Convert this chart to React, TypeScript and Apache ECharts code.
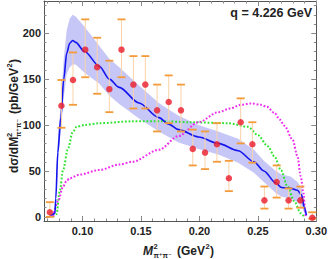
import React, { useEffect, useRef } from 'react';
import * as echarts from 'echarts';

const xMin = 0.067;
const xMax = 0.3;
const yMin = -4.5;
const yMax = 235;
const xMajor = [0.1, 0.15, 0.2, 0.25, 0.3];
const xMinor = [0.07, 0.08, 0.09, 0.11, 0.12, 0.13, 0.14, 0.16, 0.17, 0.18, 0.19, 0.21, 0.22, 0.23, 0.24, 0.26, 0.27, 0.28, 0.29];
const yMajor = [0, 50, 100, 150, 200];
const yMinor = [10, 20, 30, 40, 60, 70, 80, 90, 110, 120, 130, 140, 160, 170, 180, 190, 210, 220, 230];

// measured data points with error bars
const dataX = [0.072, 0.0819, 0.0918, 0.1023, 0.1125, 0.1229, 0.1333, 0.1435, 0.1537, 0.1638, 0.1737, 0.1842, 0.1943, 0.2048, 0.215, 0.2252, 0.2353, 0.2453, 0.2556, 0.2661, 0.2763, 0.2864, 0.2966];
const dataY = [5, 121, 149, 182, 163, 139, 182, 144, 144, 116, 125, 116, 74, 70, 79, 42, 103, 79, 18, 38, 18, 18, -1];
const errLow = [0, 97, 122, 152, 134, 114, 152, 118, 118, 93, 102, 93, 56, 52, 60, 28, 80, 59, 9, 21, 9, 10, -2];
const errHigh = [16, 149, 179, 215, 195, 170, 215, 175, 175, 144, 154, 144, 95, 93, 102, 61, 129, 103, 33, 56, 31, 33, 5];

// fit curve (blue) with uncertainty band
const modelX = [0.0716, 0.074, 0.0763, 0.0771, 0.0788, 0.0814, 0.0839, 0.0864, 0.089, 0.0915, 0.0941, 0.1017, 0.1144, 0.1229, 0.1314, 0.1483, 0.1653, 0.1737, 0.1822, 0.1992, 0.2161, 0.2331, 0.2466, 0.2551, 0.2653, 0.2703, 0.278, 0.2839, 0.2873, 0.2898, 0.2915];
const blueY = [0, 2.5, 4, 20, 70, 108, 150, 178, 189, 192, 190, 180, 164, 150, 141, 124, 108, 101, 95, 87, 80, 72, 60, 50, 37, 32, 31, 29, 24, 10, 2];
const bandUpper = [0, 3, 6, 25, 82, 124, 172, 203, 216, 220, 218, 207, 186, 172, 163, 143, 124, 117, 110, 100, 93, 85, 73, 61, 50, 46, 44, 38, 32, 16, 5];
const bandLower = [0, 2, 2, 15, 58, 94, 130, 155, 163, 166, 166, 157, 145, 132, 123, 107, 93, 87, 81, 74, 68, 59, 48, 38, 26, 22, 20, 16, 12, 4, 0];

// green dotted component
const greenX = [0.0746, 0.0777, 0.0805, 0.0833, 0.0875, 0.0915, 0.0949, 0.1017, 0.1144, 0.1424, 0.1695, 0.1932, 0.2246, 0.2415, 0.25, 0.2585, 0.2642, 0.2697, 0.2754, 0.2811, 0.2867, 0.2896];
const greenY = [0, 3, 28, 51, 74, 92, 98, 100, 102, 104, 104, 103, 102, 98, 89, 77, 66, 51, 33, 17, 4, 0];

// magenta dotted component
const magX = [0.0748, 0.0791, 0.0833, 0.0862, 0.089, 0.0975, 0.1144, 0.1314, 0.1426, 0.1653, 0.1822, 0.1992, 0.2161, 0.2263, 0.2356, 0.2441, 0.2525, 0.2576, 0.2644, 0.2686, 0.2729, 0.2797, 0.2839, 0.2867, 0.289, 0.2904, 0.2909];
const magY = [0.5, 17, 33, 39, 42, 46, 51, 57, 60, 73, 88, 103, 114, 118, 122, 123.5, 122, 120, 113, 106, 99, 84, 66, 44, 26, 8, 0.5];

const FONT = '"Liberation Sans", Arial, "DejaVu Sans", sans-serif';
const FRAME = '#555';
const TICK = '#888';

function axisCommon(min: number, max: number) {
  return { type: 'value', min, max, splitLine: { show: false } };
}

export default function App() {
  const ref = useRef<HTMLDivElement>(null);
  useEffect(() => {
    if (!ref.current) return;
    const chart = echarts.init(ref.current, undefined, { renderer: 'svg' });
    const labelStyle = { fontSize: 11, fontWeight: 'bold', color: '#222', fontFamily: FONT };
    const xAxes = [
      {
        ...axisCommon(xMin, xMax), position: 'bottom',
        axisLine: { show: true, onZero: false, lineStyle: { color: FRAME, width: 1 } },
        axisTick: { show: true, inside: true, length: 5, customValues: xMajor, lineStyle: { color: TICK } },
        axisLabel: { show: true, customValues: xMajor, margin: 4, formatter: (v: number) => v.toFixed(2), ...labelStyle },
      },
      {
        ...axisCommon(xMin, xMax), position: 'bottom',
        axisLine: { show: false, onZero: false },
        axisTick: { show: true, inside: true, length: 2.5, customValues: xMinor, lineStyle: { color: TICK } },
        axisLabel: { show: false },
      },
      {
        ...axisCommon(xMin, xMax), position: 'top',
        axisLine: { show: true, onZero: false, lineStyle: { color: FRAME, width: 1 } },
        axisTick: { show: true, inside: true, length: 5, customValues: xMajor, lineStyle: { color: TICK } },
        axisLabel: { show: false },
      },
      {
        ...axisCommon(xMin, xMax), position: 'top',
        axisLine: { show: false, onZero: false },
        axisTick: { show: true, inside: true, length: 2.5, customValues: xMinor, lineStyle: { color: TICK } },
        axisLabel: { show: false },
      },
    ];
    const yAxes = [
      {
        ...axisCommon(yMin, yMax), position: 'left',
        axisLine: { show: true, onZero: false, lineStyle: { color: FRAME, width: 1 } },
        axisTick: { show: true, inside: true, length: 5, customValues: yMajor, lineStyle: { color: TICK } },
        axisLabel: { show: true, customValues: yMajor, margin: 3, ...labelStyle },
      },
      {
        ...axisCommon(yMin, yMax), position: 'left',
        axisLine: { show: false, onZero: false },
        axisTick: { show: true, inside: true, length: 2.5, customValues: yMinor, lineStyle: { color: TICK } },
        axisLabel: { show: false },
      },
      {
        ...axisCommon(yMin, yMax), position: 'right',
        axisLine: { show: true, onZero: false, lineStyle: { color: FRAME, width: 1 } },
        axisTick: { show: true, inside: true, length: 5, customValues: yMajor, lineStyle: { color: TICK } },
        axisLabel: { show: false },
      },
      {
        ...axisCommon(yMin, yMax), position: 'right',
        axisLine: { show: false, onZero: false },
        axisTick: { show: true, inside: true, length: 2.5, customValues: yMinor, lineStyle: { color: TICK } },
        axisLabel: { show: false },
      },
    ];

    const bandData = modelX.map((x, i) => [x, bandLower[i], bandUpper[i]]);
    const errData = dataX.map((x, i) => [x, errLow[i], errHigh[i]]);

    const t = (text: string, x: number, y: number, size: number, extra: any = {}) => ({
      type: 'text', x, y,
      style: { text, fontSize: size, fontWeight: 'bold', fontFamily: FONT, fill: '#222', textAlign: 'left', textVerticalAlign: 'middle', ...extra },
    });

    chart.setOption({
      animation: false,
      grid: { left: 44, right: 11, top: 1, bottom: 38, containLabel: false },
      xAxis: xAxes,
      yAxis: yAxes,
      series: [
        {
          type: 'custom', z: 1, xAxisIndex: 0, yAxisIndex: 0, data: bandData,
          renderItem: (params: any, api: any) => {
            if (params.dataIndex !== 0) return null;
            const pts: number[][] = [];
            for (let i = 0; i < bandData.length; i++) pts.push(api.coord([bandData[i][0], bandData[i][2]]));
            for (let i = bandData.length - 1; i >= 0; i--) pts.push(api.coord([bandData[i][0], bandData[i][1]]));
            return { type: 'polygon', shape: { points: pts }, style: { fill: '#c6c7f6', stroke: 'none' } };
          },
        },
        {
          type: 'line', z: 2, data: greenX.map((x, i) => [x, greenY[i]]), showSymbol: false, smooth: 0.3, smoothMonotone: 'x',
          lineStyle: { color: '#2fe42f', width: 2, type: [1.8, 1.8] },
        },
        {
          type: 'line', z: 2, data: magX.map((x, i) => [x, magY[i]]), showSymbol: false, smooth: 0.3, smoothMonotone: 'x',
          lineStyle: { color: '#ee2cee', width: 2, type: [1.8, 1.8] },
        },
        {
          type: 'line', z: 3, data: modelX.map((x, i) => [x, blueY[i]]), showSymbol: false, smooth: 0.3, smoothMonotone: 'x',
          lineStyle: { color: '#1414ee', width: 1.6 },
        },
        {
          type: 'custom', z: 4, data: errData,
          renderItem: (params: any, api: any) => {
            const x = api.value(0);
            const lo = api.coord([x, api.value(1)]);
            const hi = api.coord([x, api.value(2)]);
            const h = 4;
            return {
              type: 'group',
              children: [
                { type: 'line', shape: { x1: lo[0], y1: lo[1], x2: hi[0], y2: hi[1] }, style: { stroke: '#fbd2a8', lineWidth: 1 } },
                { type: 'line', shape: { x1: lo[0] - h, y1: lo[1], x2: lo[0] + h, y2: lo[1] }, style: { stroke: '#f49a38', lineWidth: 1.8 } },
                { type: 'line', shape: { x1: hi[0] - h, y1: hi[1], x2: hi[0] + h, y2: hi[1] }, style: { stroke: '#f49a38', lineWidth: 1.8 } },
              ],
            };
          },
        },
        {
          type: 'scatter', z: 5, data: dataX.map((x, i) => [x, dataY[i]]), symbolSize: 6.5,
          itemStyle: { color: '#ea1a2a' },
        },
      ],
      graphic: [
        t('q = 4.226 GeV', 312, 13, 12.5, { textAlign: 'right' }),
        // x axis title
        t('M', 143, 251, 12, { fontStyle: 'italic' }),
        t('2', 153.5, 246, 7.5),
        t('π⁺π⁻', 153.5, 255.5, 7),
        t('(GeV', 177, 251, 12),
        t('2', 205.5, 246, 7.5),
        t(')', 210, 251, 12),
        // y axis title (rotated)
        {
          type: 'group', x: 14, y: 115, rotation: Math.PI / 2,
          children: [
            t('dσ/dM', -58, 0, 12),
            t('2', -22, -5, 7.5),
            t('π⁺π⁻', -22, 4.5, 7),
            t('(pb/GeV', 1, 0, 12),
            t('2', 47.5, -5, 7.5),
            t(')', 52, 0, 12),
          ],
        },
      ],
    });
    return () => chart.dispose();
  }, []);
  return <div ref={ref} style={{ position: 'absolute', left: 0, top: 0, width: 330, height: 259 }} />;
}
